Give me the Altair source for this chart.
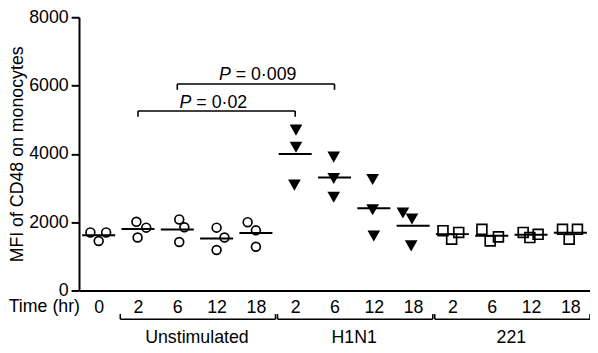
import altair as alt
import pandas as pd

FONT = "Liberation Sans"
FS = 18

# x categories (time in hours) and marker type per category
time_labels = ["0", "2", "6", "12", "18", "2", "6", "12", "18", "2", "6", "12", "18"]
marker_type = ["circle"] * 5 + ["triangle"] * 4 + ["square"] * 4

# MFI of CD48 on monocytes, three donors per category
mfi_values = [
    [1700, 1450, 1700],
    [2010, 1840, 1550],
    [2080, 1850, 1420],
    [1840, 1550, 1185],
    [2000, 1760, 1280],
    [4700, 4200, 3090],
    [3910, 3285, 2735],
    [3255, 2370, 1600],
    [2275, 2100, 1310],
    [1750, 1700, 1500],
    [1790, 1570, 1450],
    [1700, 1645, 1550],
    [1790, 1790, 1500],
]
# horizontal spread of the dots (fraction of a category step)
jitter = [
    [-0.21, 0.0, 0.19],
    [-0.04, 0.21, -0.01],
    [0.05, 0.18, 0.05],
    [0.0, 0.2, 0.0],
    [-0.21, 0.0, 0.0],
    [0.02, 0.02, -0.02],
    [-0.02, -0.02, -0.02],
    [-0.03, -0.03, 0.0],
    [-0.26, -0.03, -0.05],
    [-0.24, 0.16, -0.02],
    [-0.25, 0.17, -0.04],
    [-0.2, 0.18, -0.03],
    [-0.2, 0.18, -0.03],
]

# group brackets below the axis
group_names = ["Unstimulated", "H1N1", "221"]
group_first = [1, 5, 9]
group_last = [4, 8, 12]
group_line_y = -840
group_tick_y = -690
group_label_y = -1380
time_title_y = -231

# significance brackets
sig_values = ["0·02", "0·009"]
sig_from = [1, 2]
sig_to = [5, 6]
sig_line = [5256, 6045]
sig_tick_end = [5090, 5875]
sig_text_y = [5343, 6172]
sig_p_dx = [-25.5, -25.5]
sig_rest_dx = [-20.5, -20.5]

rows = []
for i, (vals, jits) in enumerate(zip(mfi_values, jitter)):
    for v, j in zip(vals, jits):
        rows.append({"idx": i, "xpos": i + j, "mfi": v, "marker": marker_type[i]})
pts = pd.DataFrame(rows)

xscale = alt.Scale(domain=[-0.5, 12.5], nice=False, zero=False)
yscale = alt.Scale(domain=[0, 8000], nice=False, zero=False)

label_expr = "[" + ",".join("'" + t + "'" for t in time_labels) + "][datum.value]"

x_axis = alt.Axis(values=list(range(len(time_labels))), labelExpr=label_expr, ticks=False,
                  domainWidth=2, domainColor="black", labelFont=FONT, labelFontSize=FS,
                  labelColor="black", labelPadding=8, grid=False, title=None,
                  labelOverlap=False, labelFlush=False)
y_axis = alt.Axis(values=[0, 2000, 4000, 6000, 8000], format="d", tickSize=8, tickWidth=2,
                  tickColor="black", domainWidth=2, domainColor="black", labelFont=FONT,
                  labelFontSize=FS, labelColor="black", labelPadding=3, grid=False,
                  title="MFI of CD48 on monocytes", titleFont=FONT, titleFontSize=FS,
                  titleFontWeight="normal", titleColor="black", titlePadding=2,
                  labelFlush=False, labelOverlap=False)


def X(field):
    return alt.X(field, scale=xscale, axis=x_axis)


def Y(field):
    return alt.Y(field, scale=yscale, axis=y_axis)


base = alt.Chart(pts)
circles = base.transform_filter(alt.datum.marker == "circle").mark_point(
    shape="circle", filled=False, size=80, strokeWidth=1.7, color="black", opacity=1
).encode(x=X("xpos:Q"), y=Y("mfi:Q"))

triangles = base.transform_filter(alt.datum.marker == "triangle").mark_point(
    shape="M-1,-0.85L1,-0.85L0,0.9Z", filled=True, size=165, color="black", opacity=1
).encode(x=X("xpos:Q"), y=Y("mfi:Q"))

squares = base.transform_filter(alt.datum.marker == "square").mark_point(
    shape="square", filled=False, size=100, strokeWidth=1.7, color="black", opacity=1
).encode(x=X("xpos:Q"), y=Y("mfi:Q"))

means = base.transform_aggregate(mean="mean(mfi)", groupby=["idx"]).transform_calculate(
    x1="datum.idx - 0.42", x2="datum.idx + 0.42"
).mark_rule(strokeWidth=2, color="black").encode(
    x=X("x1:Q"), x2="x2:Q", y=Y("mean:Q"))

# group brackets
gdf = pd.DataFrame({
    "name": group_names,
    "x1": [f - 0.5 + 0.05 for f in group_first],
    "x2": [l + 0.5 for l in group_last],
    "mid": [(f + l) / 2 for f, l in zip(group_first, group_last)],
    "yl": [group_line_y] * 3,
    "yt": [group_tick_y] * 3,
    "ylab": [group_label_y] * 3,
})
gbase = alt.Chart(gdf)
g_h = gbase.mark_rule(strokeWidth=1.6, color="black").encode(x=X("x1:Q"), x2="x2:Q", y=Y("yl:Q"))
g_l = gbase.mark_rule(strokeWidth=1.6, color="black").encode(x=X("x1:Q"), y=Y("yl:Q"), y2="yt:Q")
g_r = gbase.mark_rule(strokeWidth=1.6, color="black").encode(x=X("x2:Q"), y=Y("yl:Q"), y2="yt:Q")
g_t = gbase.mark_text(font=FONT, fontSize=FS, color="black", align="center", baseline="middle").encode(
    x=X("mid:Q"), y=Y("ylab:Q"), text="name:N")

tdf = pd.DataFrame({"t": ["Time (hr)"], "x": [-0.5], "y": [time_title_y]})
time_t = alt.Chart(tdf).mark_text(font=FONT, fontSize=FS, color="black", align="right",
                                   baseline="top", dx=1).encode(
    x=X("x:Q"), y=Y("y:Q"), text="t:N")

layers = [circles, triangles, squares, means, g_h, g_l, g_r, g_t, time_t]

# significance brackets
for k in range(len(sig_values)):
    sdf = pd.DataFrame({
        "x1": [sig_from[k]], "x2": [sig_to[k]],
        "mid": [(sig_from[k] + sig_to[k]) / 2],
        "yl": [sig_line[k]], "yt": [sig_tick_end[k]], "ytx": [sig_text_y[k]],
        "p": ["P"], "rest": ["= " + sig_values[k]],
    })
    sb = alt.Chart(sdf)
    layers.append(sb.mark_rule(strokeWidth=1.6, color="black").encode(
        x=X("x1:Q"), x2="x2:Q", y=Y("yl:Q")))
    layers.append(sb.mark_rule(strokeWidth=1.6, color="black").encode(
        x=X("x1:Q"), y=Y("yl:Q"), y2="yt:Q"))
    layers.append(sb.mark_rule(strokeWidth=1.6, color="black").encode(
        x=X("x2:Q"), y=Y("yl:Q"), y2="yt:Q"))
    layers.append(sb.mark_text(font=FONT, fontSize=FS, fontStyle="italic", color="black",
                               align="right", baseline="alphabetic", dx=sig_p_dx[k]).encode(
        x=X("mid:Q"), y=Y("ytx:Q"), text="p:N"))
    layers.append(sb.mark_text(font=FONT, fontSize=FS, color="black",
                               align="left", baseline="alphabetic", dx=sig_rest_dx[k]).encode(
        x=X("mid:Q"), y=Y("ytx:Q"), text="rest:N"))

chart = alt.layer(*layers).properties(
    width=518, height=277,
    autosize=alt.AutoSizeParams(type="none"),
    padding={"left": 72, "top": 7, "right": 0, "bottom": 61},
    background="white",
).configure_view(stroke=None)

chart.save("out.html", embed_options={"renderer": "svg", "actions": False})
